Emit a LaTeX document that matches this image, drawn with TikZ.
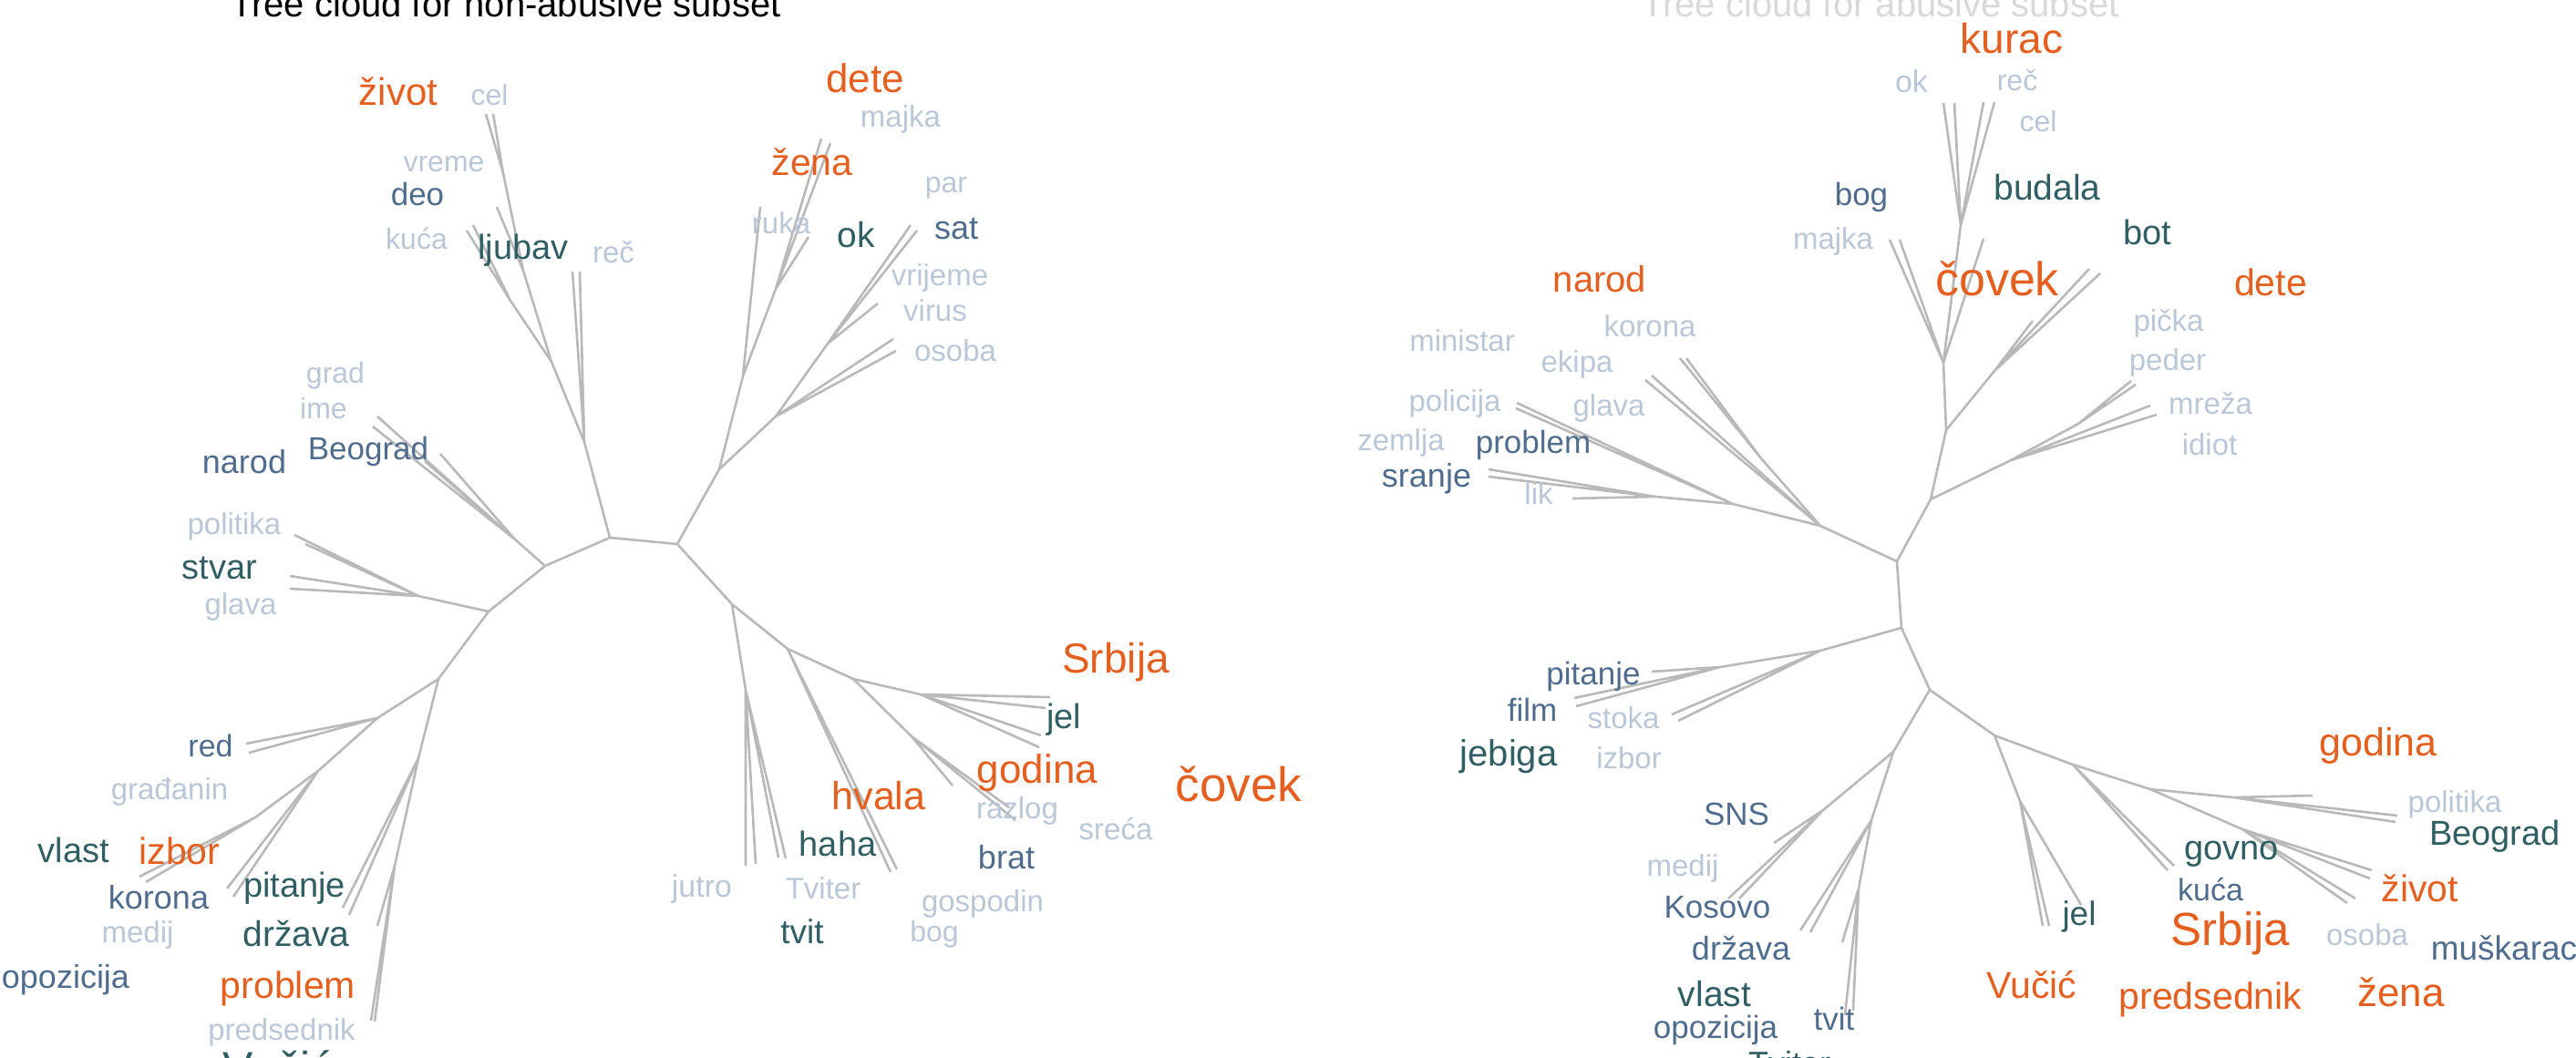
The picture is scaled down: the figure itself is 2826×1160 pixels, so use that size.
\documentclass[tikz,border=0pt]{standalone}
\usepackage{fontspec}
\setmainfont{Liberation Sans}

\definecolor{orng}{RGB}{228,96,32}
\definecolor{wteal}{RGB}{48,94,98}
\definecolor{wslate}{RGB}{80,108,140}
\definecolor{wlite}{RGB}{186,199,215}
\definecolor{brgray}{RGB}{185,185,185}

\tikzset{
  br/.style={draw=brgray, line width=2.6pt},
  wd/.style={inner sep=0pt, font=\fontsize{#1pt}{#1pt}\selectfont},
  hot/.style={text=orng},
  dk/.style={text=wteal},
  mid/.style={text=wslate},
  pale/.style={text=wlite}
}

\begin{document}
\begin{tikzpicture}[x=1pt,y=-1pt]
  \useasboundingbox (0,0) rectangle (2826,1160);
  \clip (0,0) rectangle (2826,1160);

  % titles, cut at the top edge
  \node[wd=40, anchor=base] (tleft) at (555,18) {Tree cloud for non-abusive subset};
  \node[wd=40, anchor=base, text=gray!30] (tright) at (2063,18) {Tree cloud for abusive subset};

  % left tree: branch points
  \coordinate (nA) at (669,590);  \coordinate (nB) at (743,597);
  \coordinate (nL1) at (641,485); \coordinate (nL2) at (605,397);
  \coordinate (nT1) at (574,297); \coordinate (nT2) at (552,190);
  \coordinate (nK1) at (560,330);
  \coordinate (nM1) at (598,621); \coordinate (nBG) at (565,592);
  \coordinate (nM2) at (536,671); \coordinate (nS1) at (459,654);
  \coordinate (nM3) at (481,745); \coordinate (nR1) at (414,788);
  \coordinate (nR2) at (349,846); \coordinate (nR3) at (280,897);
  \coordinate (nD1) at (459,832); \coordinate (nD2) at (433,950);
  \coordinate (nN1) at (789,515); \coordinate (nN2) at (815,413);
  \coordinate (nN4) at (851,317); \coordinate (nN3) at (851,457);
  \coordinate (nN5) at (908,377);
  \coordinate (nC1) at (803,663); \coordinate (nJ1) at (818,757);
  \coordinate (nC2) at (864,712); \coordinate (nC3) at (936,745);
  \coordinate (nC4) at (1010,762); \coordinate (nC6) at (1000,808);

  % left tree: leaf ends
  \coordinate (er1) at (628,298); \coordinate (er2) at (636,298);
  \coordinate (ez1) at (533,125); \coordinate (ez2) at (541,125);
  \coordinate (ed1) at (545,227);
  \coordinate (ek1) at (512,253); \coordinate (ek2) at (519,247);
  \coordinate (eb1) at (414,457); \coordinate (eb2) at (409,468);
  \coordinate (eb3) at (483,498); \coordinate (eb4) at (466,506);
  \coordinate (es1) at (318,632); \coordinate (es2) at (318,646);
  \coordinate (ep1) at (323,587); \coordinate (ep2) at (335,597);
  \coordinate (ee1) at (270,816); \coordinate (ee2) at (273,826);
  \coordinate (ei1) at (153,962); \coordinate (ei2) at (160,968);
  \coordinate (ec1) at (249,975); \coordinate (ec2) at (256,984);
  \coordinate (et1) at (376,996); \coordinate (et2) at (383,1004);
  \coordinate (eq1) at (414,1016); \coordinate (eq2) at (407,1120);
  \coordinate (eq3) at (411,1121);
  \coordinate (eu1) at (834,227);
  \coordinate (ew1) at (901,152); \coordinate (ew2) at (911,157);
  \coordinate (ew3) at (887,260);
  \coordinate (ev1) at (999,247); \coordinate (ev2) at (1006,253);
  \coordinate (ev3) at (963,333);
  \coordinate (eo1) at (980,372); \coordinate (eo2) at (983,385);
  \coordinate (ej1) at (818,950); \coordinate (ej2) at (829,948);
  \coordinate (ej3) at (854,941); \coordinate (ej4) at (862,942);
  \coordinate (eh1) at (977,957); \coordinate (eh2) at (984,954);
  \coordinate (eg1) at (1152,765); \coordinate (eg2) at (1147,777);
  \coordinate (eg3) at (1142,807); \coordinate (eg4) at (1140,820);
  \coordinate (eg5) at (1045,862); \coordinate (eg6) at (1107,886);
  \coordinate (eg7) at (1114,900);

  \draw[br] (nA) -- (nB);
  \draw[br] (nA) -- (nL1) -- (nL2) -- (nT1) -- (nT2) -- (ez1) (nT2) -- (ez2);
  \draw[br] (nL1) -- (er1) (nL1) -- (er2) (nT1) -- (ed1);
  \draw[br] (nL2) -- (nK1) -- (ek1) (nK1) -- (ek2);
  \draw[br] (nA) -- (nM1) -- (nBG) -- (eb1) (nBG) -- (eb2) (nBG) -- (eb3) (nBG) -- (eb4);
  \draw[br] (nM1) -- (nM2) -- (nS1) -- (es1) (nS1) -- (es2) (nS1) -- (ep1) (nS1) -- (ep2);
  \draw[br] (nM2) -- (nM3) -- (nR1) -- (ee1) (nR1) -- (ee2);
  \draw[br] (nR1) -- (nR2) -- (nR3) -- (ei1) (nR3) -- (ei2);
  \draw[br] (nR2) -- (ec1) (nR2) -- (ec2);
  \draw[br] (nM3) -- (nD1) -- (et1) (nD1) -- (et2);
  \draw[br] (nD1) -- (nD2) -- (eq1) (nD2) -- (eq2) (nD2) -- (eq3);
  \draw[br] (nB) -- (nN1) -- (nN2) -- (eu1) (nN2) -- (nN4) -- (ew1) (nN4) -- (ew2) (nN4) -- (ew3);
  \draw[br] (nN1) -- (nN3) -- (nN5) -- (ev1) (nN5) -- (ev2) (nN5) -- (ev3);
  \draw[br] (nN3) -- (eo1) (nN3) -- (eo2);
  \draw[br] (nB) -- (nC1) -- (nJ1) -- (ej1) (nJ1) -- (ej2) (nJ1) -- (ej3) (nJ1) -- (ej4);
  \draw[br] (nC1) -- (nC2) -- (eh1) (nC2) -- (eh2);
  \draw[br] (nC2) -- (nC3) -- (nC4) -- (eg1) (nC4) -- (eg2) (nC4) -- (eg3) (nC4) -- (eg4);
  \draw[br] (nC3) -- (nC6) -- (eg5) (nC6) -- (eg6) (nC6) -- (eg7);

  % left tree: words
  \node[wd=42, hot]  (lzivot) at (437,100) {život};
  \node[wd=32, pale] (lcel) at (537,104) {cel};
  \node[wd=32, pale] (lvreme) at (487,180) {vreme};
  \node[wd=35, mid]  (ldeo) at (458,213) {deo};
  \node[wd=32, pale] (lkuca) at (457,262) {kuća};
  \node[wd=38, dk]   (lljubav) at (574,275) {ljubav};
  \node[wd=33, pale] (lrec) at (673,277) {reč};
  \node[wd=32, pale] (lgrad) at (368,412) {grad};
  \node[wd=32, pale] (lime) at (355,448) {ime};
  \node[wd=36, mid]  (lnarod) at (268,507) {narod};
  \node[wd=35, mid]  (lbeograd) at (404,495) {Beograd};
  \node[wd=33, pale] (lpolitika) at (257,578) {politika};
  \node[wd=38, dk]   (lstvar) at (241,623) {stvar};
  \node[wd=33, pale] (lglava) at (264,666) {glava};
  \node[wd=34, mid]  (lred) at (231,818) {red};
  \node[wd=33, pale] (lgradjanin) at (186,869) {građanin};
  \node[wd=38, dk]   (lvlast) at (81,933) {vlast};
  \node[wd=41, hot]  (lizbor) at (197,934) {izbor};
  \node[wd=36, mid]  (lkorona) at (174,985) {korona};
  \node[wd=38, dk]   (lpitanje) at (323,975) {pitanje};
  \node[wd=33, pale] (lmedij) at (151,1026) {medij};
  \node[wd=39, dk]   (ldrzava) at (325,1024) {država};
  \node[wd=36, mid]  (lopozicija) at (72,1075) {opozicija};
  \node[wd=41, hot]  (lproblem) at (316,1085) {problem};
  \node[wd=33, pale] (lpredsednik) at (309,1133) {predsednik};
  \node[wd=50, dk, anchor=north] (lvucic) at (305,1152) {Vučić};
  \node[wd=44, hot]  (ldete) at (949,86) {dete};
  \node[wd=33, pale] (lmajka) at (988,131) {majka};
  \node[wd=41, hot]  (lzena) at (891,178) {žena};
  \node[wd=32, pale] (lpar) at (1038,206) {par};
  \node[wd=33, pale] (lruka) at (857,245) {ruka};
  \node[wd=39, dk]   (lok) at (939,258) {ok};
  \node[wd=36, mid]  (lsat) at (1049,251) {sat};
  \node[wd=33, pale] (lvrijeme) at (1031,305) {vrijeme};
  \node[wd=33, pale] (lvirus) at (1026,341) {virus};
  \node[wd=33, pale] (losoba) at (1048,385) {osoba};
  \node[wd=46, hot]  (lsrbija) at (1224,727) {Srbija};
  \node[wd=38, dk]   (ljel) at (1167,790) {jel};
  \node[wd=44, hot]  (lgodina) at (1138,848) {godina};
  \node[wd=53, hot]  (lcovek) at (1359,860) {čovek};
  \node[wd=43, hot]  (lhvala) at (964,873) {hvala};
  \node[wd=33, pale] (lrazlog) at (1116,890) {razlog};
  \node[wd=33, pale] (lsreca) at (1224,909) {sreća};
  \node[wd=38, dk]   (lhaha) at (919,926) {haha};
  \node[wd=36, mid]  (lbrat) at (1104,941) {brat};
  \node[wd=34, pale] (ljutro) at (770,976) {jutro};
  \node[wd=33, pale] (ltviter) at (903,975) {Tviter};
  \node[wd=33, pale] (lgospodin) at (1078,992) {gospodin};
  \node[wd=37, dk]   (ltvit) at (880,1022) {tvit};
  \node[wd=32, pale] (lbog) at (1025,1025) {bog};

  % right tree: branch points
  \coordinate (xR0) at (2081,616); \coordinate (xU1) at (2118,548);
  \coordinate (xU2) at (2206,505); \coordinate (xU3) at (2280,465);
  \coordinate (xU4) at (2135,472); \coordinate (xU5) at (2188,407);
  \coordinate (xU6) at (2132,398); \coordinate (xU7) at (2151,247);
  \coordinate (xW1) at (1997,577); \coordinate (xW2) at (1932,503);
  \coordinate (xW3) at (1901,553); \coordinate (xW4) at (1816,545);
  \coordinate (xV1) at (2086,689); \coordinate (xP1) at (1997,714);
  \coordinate (xP2) at (1887,732); \coordinate (xV2) at (2117,757);
  \coordinate (xV3) at (2077,825); \coordinate (xS1) at (2000,889);
  \coordinate (xS2) at (2053,900); \coordinate (xS3) at (2039,975);
  \coordinate (xX1) at (2188,807); \coordinate (xX1a) at (2216,879);
  \coordinate (xX2) at (2274,839); \coordinate (xX3) at (2359,866);
  \coordinate (xX4) at (2450,875); \coordinate (xX5) at (2460,910);

  % right tree: leaf ends
  \coordinate (fm1) at (2366,455); \coordinate (fm2) at (2359,445);
  \coordinate (fp1) at (2343,422); \coordinate (fp2) at (2338,418);
  \coordinate (fb1) at (2230,352);
  \coordinate (fb2) at (2304,300); \coordinate (fb3) at (2292,295);
  \coordinate (fk1) at (2132,113); \coordinate (fk2) at (2144,113);
  \coordinate (fk3) at (2176,112); \coordinate (fk4) at (2188,112);
  \coordinate (fg1) at (2073,263); \coordinate (fg2) at (2084,263);
  \coordinate (fc1) at (2176,262);
  \coordinate (fr1) at (1843,393); \coordinate (fr2) at (1850,393);
  \coordinate (fe1) at (1812,412); \coordinate (fe2) at (1805,417);
  \coordinate (fl1) at (1664,442); \coordinate (fl2) at (1663,448);
  \coordinate (fs1) at (1633,515); \coordinate (fs2) at (1633,523);
  \coordinate (fs3) at (1725,547);
  \coordinate (ft1) at (1812,737); \coordinate (ft2) at (1727,766);
  \coordinate (ft3) at (1729,775);
  \coordinate (fo1) at (1834,784); \coordinate (fo2) at (1841,791);
  \coordinate (fn1) at (1946,925); \coordinate (fn2) at (1896,986);
  \coordinate (fn3) at (1908,986);
  \coordinate (fd1) at (1975,1021); \coordinate (fd2) at (1986,1023);
  \coordinate (fv1) at (2021,1034); \coordinate (fv2) at (2024,1114);
  \coordinate (fv3) at (2033,1109);
  \coordinate (fj1) at (2241,1016); \coordinate (fj2) at (2248,1016);
  \coordinate (fj3) at (2283,993);
  \coordinate (fq1) at (2378,955); \coordinate (fq2) at (2385,950);
  \coordinate (fz1) at (2537,873); \coordinate (fz2) at (2630,895);
  \coordinate (fz3) at (2628,902);
  \coordinate (fy1) at (2602,955); \coordinate (fy2) at (2600,964);
  \coordinate (fy3) at (2584,986); \coordinate (fy4) at (2575,991);

  \draw[br] (xR0) -- (xU1) -- (xU2) -- (fm1) (xU2) -- (fm2);
  \draw[br] (xU2) -- (xU3) -- (fp1) (xU3) -- (fp2);
  \draw[br] (xU1) -- (xU4) -- (xU5) -- (fb1) (xU5) -- (fb2) (xU5) -- (fb3);
  \draw[br] (xU4) -- (xU6) -- (xU7) -- (fk1) (xU7) -- (fk2) (xU7) -- (fk3) (xU7) -- (fk4);
  \draw[br] (xU6) -- (fg1) (xU6) -- (fg2) (xU6) -- (fc1);
  \draw[br] (xR0) -- (xW1) -- (xW2) -- (fr1) (xW2) -- (fr2);
  \draw[br] (xW1) -- (fe1) (xW1) -- (fe2);
  \draw[br] (xW1) -- (xW3) -- (fl1) (xW3) -- (fl2);
  \draw[br] (xW3) -- (xW4) -- (fs1) (xW4) -- (fs2) (xW4) -- (fs3);
  \draw[br] (xR0) -- (xV1) -- (xP1) -- (xP2) -- (ft1) (xP2) -- (ft2) (xP2) -- (ft3);
  \draw[br] (xP1) -- (fo1) (xP1) -- (fo2);
  \draw[br] (xV1) -- (xV2) -- (xV3) -- (xS1) -- (fn1) (xS1) -- (fn2) (xS1) -- (fn3);
  \draw[br] (xV3) -- (xS2) -- (fd1) (xS2) -- (fd2);
  \draw[br] (xS2) -- (xS3) -- (fv1) (xS3) -- (fv2) (xS3) -- (fv3);
  \draw[br] (xV2) -- (xX1) -- (xX1a) -- (fj1) (xX1a) -- (fj2) (xX1a) -- (fj3);
  \draw[br] (xX1) -- (xX2) -- (fq1) (xX2) -- (fq2);
  \draw[br] (xX2) -- (xX3) -- (xX4) -- (fz1) (xX4) -- (fz2) (xX4) -- (fz3);
  \draw[br] (xX3) -- (xX5) -- (fy1) (xX5) -- (fy2) (xX5) -- (fy3) (xX5) -- (fy4);

  % right tree: words
  \node[wd=46, hot]  (rkurac) at (2207,42) {kurac};
  \node[wd=34, pale] (rok) at (2097,89) {ok};
  \node[wd=32, pale] (rrec) at (2213,88) {reč};
  \node[wd=32, pale] (rcel) at (2236,133) {cel};
  \node[wd=39, dk]   (rbudala) at (2246,206) {budala};
  \node[wd=38, dk]   (rbot) at (2356,255) {bot};
  \node[wd=35, mid]  (rbog) at (2042,216) {bog};
  \node[wd=33, pale] (rmajka) at (2011,265) {majka};
  \node[wd=52, hot]  (rcovek) at (2191,306) {čovek};
  \node[wd=41, hot]  (rdete) at (2491,310) {dete};
  \node[wd=33, pale] (rpicka) at (2379,355) {pička};
  \node[wd=33, pale] (rpeder) at (2378,398) {peder};
  \node[wd=33, pale] (rmreza) at (2425,443) {mreža};
  \node[wd=33, pale] (ridiot) at (2424,488) {idiot};
  \node[wd=40, hot]  (rnarod) at (1755,306) {narod};
  \node[wd=33, pale] (rkorona) at (1810,358) {korona};
  \node[wd=33, pale] (rministar) at (1604,374) {ministar};
  \node[wd=33, pale] (rekipa) at (1730,400) {ekipa};
  \node[wd=33, pale] (rpolicija) at (1596,443) {policija};
  \node[wd=33, pale] (rglava) at (1765,448) {glava};
  \node[wd=33, pale] (rzemlja) at (1537,486) {zemlja};
  \node[wd=35, mid]  (rproblem) at (1682,488) {problem};
  \node[wd=36, mid]  (rsranje) at (1565,525) {sranje};
  \node[wd=33, pale] (rlik) at (1688,542) {lik};
  \node[wd=35, mid]  (rpitanje) at (1748,742) {pitanje};
  \node[wd=35, mid]  (rfilm) at (1681,779) {film};
  \node[wd=33, pale] (rstoka) at (1781,788) {stoka};
  \node[wd=40, dk]   (rjebiga) at (1655,830) {jebiga};
  \node[wd=33, pale] (rizbor) at (1787,832) {izbor};
  \node[wd=35, mid]  (rsns) at (1905,893) {SNS};
  \node[wd=33, pale] (rmedij) at (1846,953) {medij};
  \node[wd=35, mid]  (rkosovo) at (1884,996) {Kosovo};
  \node[wd=36, mid]  (rdrzava) at (1910,1041) {država};
  \node[wd=39, dk]   (rvlast) at (1881,1091) {vlast};
  \node[wd=35, mid]  (ropozicija) at (1882,1130) {opozicija};
  \node[wd=35, mid]  (rtvit) at (2012,1118) {tvit};
  \node[wd=36, dk, anchor=north] (rtviter) at (1963,1153) {Tviter};
  \node[wd=43, hot]  (rgodina) at (2609,818) {godina};
  \node[wd=33, pale] (rpolitika) at (2693,883) {politika};
  \node[wd=38, dk]   (rbeograd) at (2737,918) {Beograd};
  \node[wd=38, dk]   (rgovno) at (2448,937) {govno};
  \node[wd=34, mid]  (rkuca) at (2425,976) {kuća};
  \node[wd=41, hot]  (rzivot) at (2655,975) {život};
  \node[wd=37, dk]   (rjel) at (2281,1006) {jel};
  \node[wd=51, hot]  (rsrbija) at (2447,1024) {Srbija};
  \node[wd=33, pale] (rosoba) at (2597,1026) {osoba};
  \node[wd=37, mid]  (rmuskarac) at (2747,1040) {muškarac};
  \node[wd=41, hot]  (rvucic) at (2229,1081) {Vučić};
  \node[wd=41, hot]  (rpredsednik) at (2425,1097) {predsednik};
  \node[wd=44, hot]  (rzena) at (2634,1089) {žena};
\end{tikzpicture}
\end{document}
